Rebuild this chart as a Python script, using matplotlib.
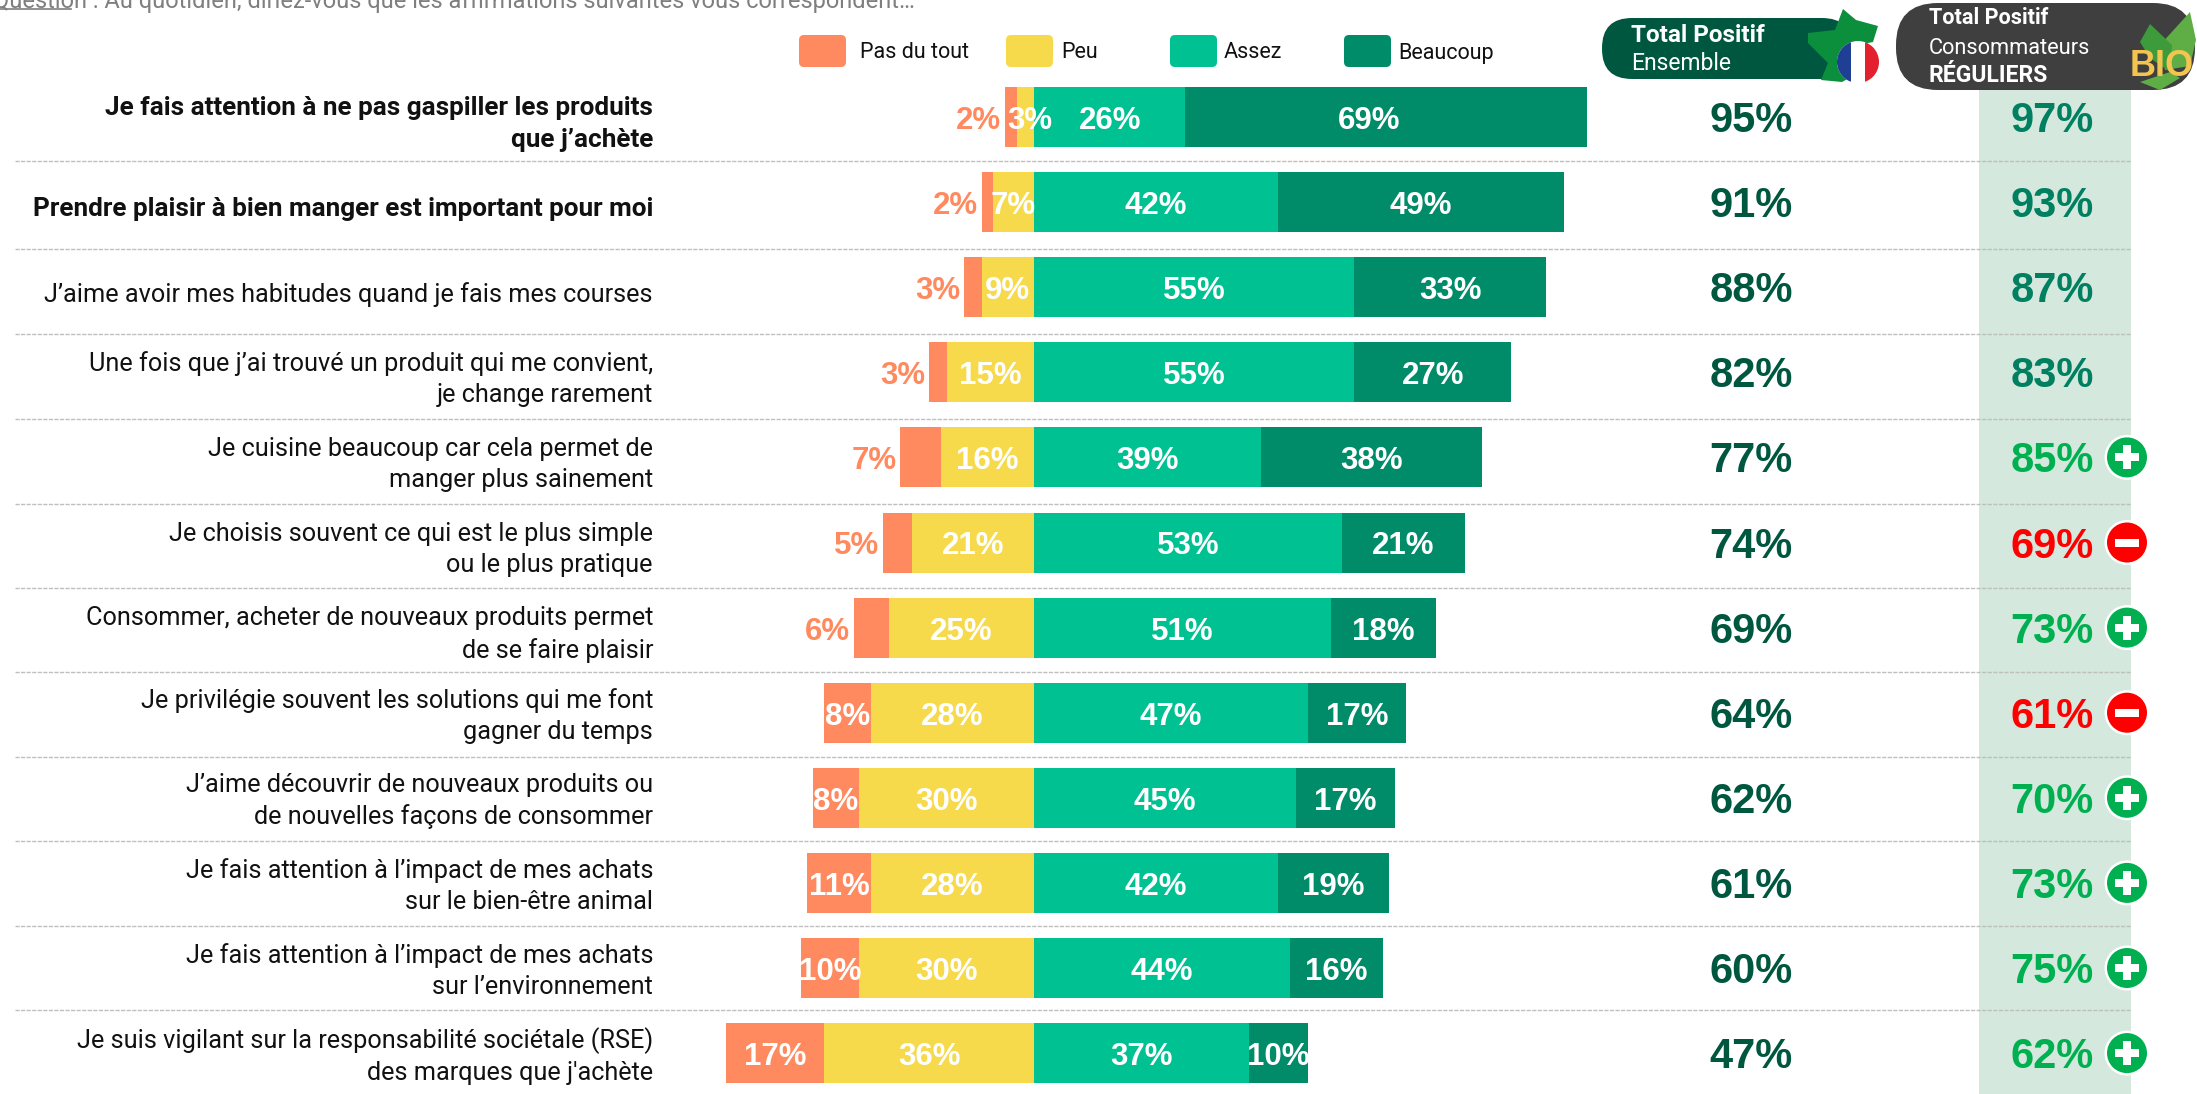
import numpy as np
import matplotlib
matplotlib.use("Agg")
import matplotlib.pyplot as plt
from matplotlib.patches import Rectangle, FancyBboxPatch, Polygon, Circle, Ellipse
from matplotlib.transforms import blended_transform_factory

plt.rcParams['font.family'] = ['Roboto', 'DejaVu Sans']

W, H = 2197, 1094

labels = [
    "Je fais attention à ne pas gaspiller les produits\nque j’achète",
    "Prendre plaisir à bien manger est important pour moi",
    "J’aime avoir mes habitudes quand je fais mes courses",
    "Une fois que j’ai trouvé un produit qui me convient,\nje change rarement",
    "Je cuisine beaucoup car cela permet de\nmanger plus sainement",
    "Je choisis souvent ce qui est le plus simple\nou le plus pratique",
    "Consommer, acheter de nouveaux produits permet\nde se faire plaisir",
    "Je privilégie souvent les solutions qui me font\ngagner du temps",
    "J’aime découvrir de nouveaux produits ou\nde nouvelles façons de consommer",
    "Je fais attention à l’impact de mes achats\nsur le bien-être animal",
    "Je fais attention à l’impact de mes achats\nsur l’environnement",
    "Je suis vigilant sur la responsabilité sociétale (RSE)\ndes marques que j'achète",
]
pas_du_tout = [2, 2, 3, 3, 7, 5, 6, 8, 8, 11, 10, 17]
peu = [3, 7, 9, 15, 16, 21, 25, 28, 30, 28, 30, 36]
assez = [26, 42, 55, 55, 39, 53, 51, 47, 45, 42, 44, 37]
beaucoup = [69, 49, 33, 27, 38, 21, 18, 17, 17, 19, 16, 10]
total_ensemble = [95, 91, 88, 82, 77, 74, 69, 64, 62, 61, 60, 47]
total_reguliers = [97, 93, 87, 83, 85, 69, 73, 61, 70, 73, 75, 62]
signif = ['', '', '', '', '+', '-', '+', '-', '+', '+', '+', '+']
legend_names = ["Pas du tout", "Peu", "Assez", "Beaucoup"]

C_PAS = "#FF8A5F"
C_PEU = "#F6DA4B"
C_ASSEZ = "#00C191"
C_BEAU = "#008B69"
C_DARK = "#00573F"
C_PLUS = "#00B050"
C_MINUS = "#FF0000"

fig = plt.figure(figsize=(W / 100, H / 100), dpi=100)

# pixel axes for the decoration
deco = fig.add_axes([0, 0, 1, 1])
deco.set_xlim(0, W)
deco.set_ylim(H, 0)
deco.axis("off")

# chart axes: x in %, y in rows
ZERO_X, PX_PER_PCT = 1034, 5.82
ROW0_Y, ROW_H = 117, 85.1
ax = fig.add_axes([0, 0, 1, 1])
ax.set_xlim(-ZERO_X / PX_PER_PCT, (W - ZERO_X) / PX_PER_PCT)
ax.set_ylim((H - ROW0_Y) / ROW_H, -ROW0_Y / ROW_H)
ax.axis("off")
ax.patch.set_alpha(0)

rows = np.arange(len(labels))
pas = np.array(pas_du_tout)
pe = np.array(peu)
ass = np.array(assez)
bea = np.array(beaucoup)

# green band behind the regular consumers column
deco.add_patch(Rectangle((1979, 85), 152, H - 85, color="#D4E8DE", lw=0, zorder=1))

# dashed separators
for y in [161, 249, 334, 419, 504, 588, 672, 757, 841, 926, 1010]:
    deco.plot([15, 2131], [y, y], color="#BFBFBF", lw=1, ls=(0, (3, 1)), zorder=2)

bar_h = 60 / ROW_H
ax.barh(rows, -pe, height=bar_h, color=C_PEU, lw=0)
ax.barh(rows, -pas, left=-pe, height=bar_h, color=C_PAS, lw=0)
ax.barh(rows, ass, height=bar_h, color=C_ASSEZ, lw=0)
ax.barh(rows, bea, left=ass, height=bar_h, color=C_BEAU, lw=0)

VAL_FS = 22.5
txt_dy = 4 / ROW_H
tr = blended_transform_factory(deco.transData, ax.transData)
for i in rows:
    kw = dict(ha="center", va="center", fontsize=VAL_FS, fontweight="bold",
              family="Liberation Sans")
    y = i + txt_dy
    if pas[i] < 8:
        ax.text(-pe[i] - pas[i] - 0.6, y, f"{pas[i]}%", color=C_PAS,
                **{**kw, "ha": "right"})
    else:
        ax.text(-pe[i] - pas[i] / 2, y, f"{pas[i]}%", color="white", **kw)
    # first row: labels sit a bit off centre in the source
    peu_x = -pe[i] / 2 + (0.7 if i == 0 else 0)
    beau_x = ass[i] + bea[i] / 2 - (2.9 if i == 0 else 0)
    ax.text(peu_x, y, f"{pe[i]}%", color="white", **kw)
    ax.text(ass[i] / 2, y, f"{ass[i]}%", color="white", **kw)
    ax.text(beau_x, y, f"{bea[i]}%", color="white", **kw)

    weight = "bold" if i < 2 else "normal"
    size = 18.8 if i < 2 else 18.2
    lab_dy = (7 if i < 7 else 3) / ROW_H
    ax.text(653, i + lab_dy, labels[i], transform=tr, ha="right", va="center", fontsize=size,
            fontweight=weight, color="#111111", linespacing=1.38)

    ax.text(1751, y, f"{total_ensemble[i]}%", transform=tr, ha="center", va="center",
            fontsize=30, fontweight="bold", family="Liberation Sans", color=C_DARK)
    if signif[i] == '+':
        col = C_PLUS
    elif signif[i] == '-':
        col = C_MINUS
    else:
        col = "#008060"
    ax.text(2052, y, f"{total_reguliers[i]}%", transform=tr, ha="center", va="center",
            fontsize=30, fontweight="bold", family="Liberation Sans", color=col)

    # significance badge
    if signif[i]:
        cy = ROW0_Y + i * ROW_H
        deco.add_patch(Circle((2127, cy), 22.5, fc="white", ec="none", zorder=5))
        deco.add_patch(Circle((2127, cy), 20, fc=col, ec="none", zorder=6))
        deco.add_patch(Rectangle((2115, cy - 4), 24, 8, fc="white", ec="none", zorder=7))
        if signif[i] == '+':
            deco.add_patch(Rectangle((2123, cy - 12), 8, 24, fc="white", ec="none", zorder=7))

deco.set_zorder(0)
ax.set_zorder(1)

# question line, cut by the top edge
deco.text(915, 8, "Question : Au quotidien, diriez-vous que les affirmations suivantes vous correspondent…",
          ha="right", va="baseline", fontsize=17, color="#7F7F7F")
deco.plot([0, 71], [9, 9], color="#7F7F7F", lw=1.2)

# legend
leg_boxes = [799, 1006, 1170, 1344]
leg_text = [860, 1061, 1224, 1398]
leg_cols = [C_PAS, C_PEU, C_ASSEZ, C_BEAU]
for bx, tx, c, name in zip(leg_boxes, leg_text, leg_cols, legend_names):
    deco.add_patch(FancyBboxPatch((bx + 3, 38), 41, 26, boxstyle="round,pad=3,rounding_size=5",
                                  fc=c, ec="none", zorder=3))
    deco.text(tx, 53, name, ha="left", va="center", fontsize=15.5, color="#111111")

# header pills
deco.add_patch(FancyBboxPatch((1602, 18), 250, 61, boxstyle="round,pad=0,rounding_size=30",
                              fc=C_DARK, ec="none", zorder=3))
deco.text(1631, 35, "Total Positif", ha="left", va="center", fontsize=17.5, fontweight="bold",
          color="white", zorder=8)
deco.text(1631, 64, "Ensemble", ha="left", va="center", fontsize=16.5, color="white", zorder=8)

deco.add_patch(FancyBboxPatch((1896, 3), 299, 87, boxstyle="round,pad=0,rounding_size=42",
                              fc="#3F3F3F", ec="none", zorder=3))
deco.text(1929, 18, "Total Positif", ha="left", va="center", fontsize=15.6, fontweight="bold",
          color="white", zorder=8)
deco.text(1929, 48, "Consommateurs", ha="left", va="center", fontsize=15.7, color="white", zorder=8)
deco.text(1929, 75, "RÉGULIERS", ha="left", va="center", fontsize=16.6, fontweight="bold",
          color="white", zorder=8)

# France map + flag
france = [(1843, 9), (1856, 20), (1878, 26), (1873, 42), (1863, 44), (1864, 70), (1842, 82),
          (1821, 80), (1828, 63), (1808, 43), (1808, 33), (1835, 30)]
deco.add_patch(Polygon(france, closed=True, fc="#0B8F3C", ec="none", zorder=4))
clip = Ellipse((1858, 62), 42, 42, transform=deco.transData, fc="white", ec="none", zorder=5)
deco.add_patch(clip)
blue = deco.add_patch(Rectangle((1837, 41), 14, 42, fc="#1F3F95", ec="none", zorder=6))
red = deco.add_patch(Rectangle((1865, 41), 14, 42, fc="#E3202D", ec="none", zorder=6))
blue.set_clip_path(clip)
red.set_clip_path(clip)

# bio leaves
deco.add_patch(Polygon([(2190, 12), (2196, 40), (2190, 66), (2165, 70), (2160, 45)], closed=True,
                       fc="#5FAE45", ec="none", zorder=4))
deco.add_patch(Polygon([(2150, 24), (2172, 45), (2170, 72), (2150, 58), (2140, 42)], closed=True,
                       fc="#3E9B3C", ec="none", zorder=4))
deco.add_patch(Polygon([(2140, 82), (2170, 72), (2180, 78), (2160, 90)], closed=True,
                       fc="#5FAE45", ec="none", zorder=4))
deco.text(2162, 67, "BIO", ha="center", va="center", fontsize=26, fontweight="bold",
          family="Liberation Sans", color="#F3C44F", zorder=8)

fig.savefig("out.png", dpi=100)
